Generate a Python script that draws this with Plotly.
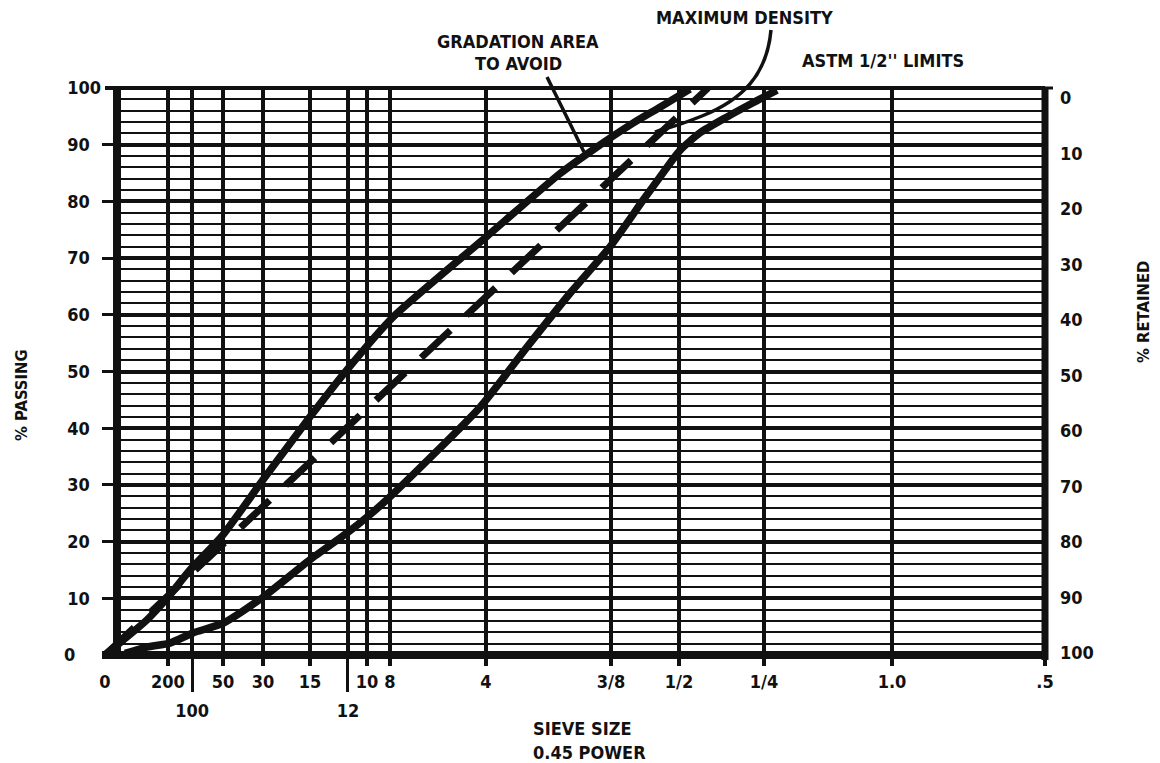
import plotly.graph_objects as go

# ---------------- data ----------------
# sieve positions on the 0.45-power x scale (chart units, 0 = origin, 100 = right edge)
sieve_labels_row1 = ["200", "50", "30", "15", "10", "8", "4", "3/8", "1/2", "1/4", "1.0", ".5"]
sieve_pos_row1 = [6.70, 12.55, 16.81, 21.81, 27.87, 30.32, 40.53, 53.83, 61.06, 70.11, 83.72, 100.0]
sieve_labels_row2 = ["100", "12"]
sieve_pos_row2 = [9.26, 25.85]
origin_label = ["0"]
origin_pos = [0.0]

passing_ticks = [0, 10, 20, 30, 40, 50, 60, 70, 80, 90, 100]
retained_ticks = [0, 10, 20, 30, 40, 50, 60, 70, 80, 90, 100]

# upper ASTM 1/2" limit curve (x position, % passing)
upper_x = [0, 1.91, 4.47, 6.70, 9.04, 12.55, 16.81, 21.81, 25.74, 30.64, 40.53, 48.40, 51.91, 56.17, 59.04, 62.23]
upper_y = [0, 2.6, 6.2, 10.2, 15.0, 21.2, 30.9, 42.0, 50.3, 59.6, 73.7, 84.9, 89.1, 93.8, 96.6, 99.8]

# lower ASTM 1/2" limit curve
lower_x = [2.13, 4.47, 6.91, 9.36, 12.55, 16.81, 21.81, 25.74, 27.87, 30.32, 39.89, 44.89, 49.47,
           53.72, 57.23, 59.04, 61.17, 63.30, 66.17, 68.94, 71.49]
lower_y = [0.3, 1.4, 2.1, 3.9, 5.6, 10.2, 16.8, 21.5, 24.3, 27.9, 43.7, 54.3, 63.8,
           72.0, 80.2, 84.3, 89.0, 92.1, 94.9, 97.4, 99.6]

# maximum density line
maxden_x = [0, 64.15]
maxden_y = [0, 100]

# ---------------- layout helpers (pixel -> paper) ----------------
W, H = 1160, 763
PL, PR, PT, PB = 102, 1045, 88, 655


def fx(p):
    return (p - PL) / (PR - PL)


def fy(p):
    return (PB - p) / (PB - PT)


INK = "#111111"
FONT = "DejaVu Sans Condensed, Liberation Sans Narrow, Arial Narrow, Liberation Sans, sans-serif"
X_MIN = -(105 - PL) / 9.4
FRAME_X = (117 - 105) / 9.4  # left frame line, in x units

# left labels are left-aligned in the reference: pad with figure spaces
FIG_SP = "\u2007"
passing_text = [str(v) + FIG_SP * (3 - len(str(v))) + ("\u2009" if v == 0 else "") for v in passing_ticks]

fig = go.Figure()

fig.add_trace(go.Scatter(x=upper_x, y=upper_y, mode="lines",
                         line=dict(color=INK, width=7.5, shape="spline", smoothing=0.6),
                         hoverinfo="skip", showlegend=False))
fig.add_trace(go.Scatter(x=lower_x, y=lower_y, mode="lines",
                         line=dict(color=INK, width=7.5, shape="spline", smoothing=0.6),
                         hoverinfo="skip", showlegend=False))
fig.add_trace(go.Scatter(x=maxden_x, y=maxden_y, mode="lines",
                         line=dict(color=INK, width=7, dash="40px,22px"),
                         hoverinfo="skip", showlegend=False))
# empty traces so that the overlaying axes (second label row, origin label, % retained) are drawn
fig.add_trace(go.Scatter(x=[], y=[], xaxis="x2", yaxis="y2", mode="lines",
                         hoverinfo="skip", showlegend=False))
fig.add_trace(go.Scatter(x=[], y=[], xaxis="x3", yaxis="y", mode="lines",
                         hoverinfo="skip", showlegend=False))

tickfont = dict(family=FONT, size=18, color=INK, weight="bold")
titlefont = dict(family=FONT, size=16.5, color=INK, weight="bold")

fig.update_layout(
    width=W, height=H,
    margin=dict(l=PL, r=W - PR, t=PT, b=H - PB, pad=0, autoexpand=False),
    paper_bgcolor="white", plot_bgcolor="white",
    font=dict(family=FONT, color=INK, weight="bold"),
    showlegend=False,
    xaxis=dict(range=[X_MIN, 100], tickmode="array", tickvals=sieve_pos_row1, ticktext=sieve_labels_row1,
               showgrid=True, gridcolor=INK, gridwidth=4, zeroline=False, showline=False,
               ticks="outside", ticklen=10, tickwidth=4, tickcolor=INK, tickfont=tickfont),
    xaxis2=dict(range=[X_MIN, 100], overlaying="x", anchor="y", side="bottom", tickmode="array",
                tickvals=sieve_pos_row2, ticktext=sieve_labels_row2,
                showgrid=True, gridcolor=INK, gridwidth=4, zeroline=False, showline=False,
                ticks="outside", ticklen=36, tickwidth=3, tickcolor=INK, tickfont=tickfont,
                ticklabelstandoff=3),
    xaxis3=dict(range=[X_MIN, 100], overlaying="x", anchor="y", side="bottom", tickmode="array",
                tickvals=origin_pos, ticktext=origin_label, showgrid=False, zeroline=False,
                showline=False, ticks="outside", ticklen=10, tickcolor="rgba(0,0,0,0)", tickfont=tickfont),
    yaxis=dict(range=[0, 100], tickmode="array", tickvals=passing_ticks, ticktext=passing_text,
               showgrid=True, gridcolor=INK, gridwidth=4, zeroline=False, showline=False,
               ticks="inside", ticklen=12, tickwidth=3, tickcolor=INK, tickfont=tickfont,
               minor=dict(dtick=2, showgrid=True, gridcolor=INK, gridwidth=2.2,
                          ticks="outside", ticklen=0, tickwidth=0, tickcolor="rgba(0,0,0,0)")),
    yaxis2=dict(range=[100.36, -1.80], overlaying="y", side="right", anchor="x", tickmode="array",
                tickvals=retained_ticks, showgrid=False, zeroline=False, showline=False, ticks="",
                tickfont=tickfont, ticklabelstandoff=14),
)

# frame and mask of grid left of the frame
shapes = [
    dict(type="rect", xref="x", yref="y", x0=X_MIN - 1, x1=FRAME_X, y0=-1, y1=101,
         fillcolor="white", line=dict(width=0), layer="between"),
    dict(type="line", xref="paper", yref="paper", x0=fx(117), x1=fx(117), y0=0, y1=1,
         line=dict(color=INK, width=8)),
    dict(type="line", xref="paper", yref="paper", x0=0, x1=1, y0=0, y1=0,
         line=dict(color=INK, width=8)),
    dict(type="line", xref="paper", yref="paper", x0=1, x1=1, y0=fy(660), y1=1,
         line=dict(color=INK, width=7)),
    dict(type="line", xref="paper", yref="paper", x0=fx(105), x1=1, y0=1, y1=1,
         line=dict(color=INK, width=4)),
    dict(type="line", xref="paper", yref="paper", x0=1, x1=fx(1053), y0=1, y1=1,
         line=dict(color=INK, width=3)),
    # leader: gradation area to avoid
    dict(type="line", xref="paper", yref="paper", x0=fx(547), y0=fy(77), x1=fx(584), y1=fy(152),
         line=dict(color=INK, width=3.5)),
    # leader: maximum density (curved)
    dict(type="path", xref="paper", yref="paper",
         path=(f"M {fx(771)} {fy(30)} C {fx(767)} {fy(75)}, {fx(742)} {fy(100)}, {fx(702)} {fy(116)} "
               f"S {fx(666)} {fy(127)}, {fx(655)} {fy(132)}"),
         line=dict(color=INK, width=3.5)),
]
fig.update_layout(shapes=shapes)

lab = dict(family=FONT, size=18, color=INK, weight="bold")
annotations = [
    dict(text="GRADATION AREA", x=fx(518), y=fy(42), xref="paper", yref="paper",
         xanchor="center", yanchor="middle", showarrow=False, font=lab),
    dict(text="TO AVOID", x=fx(518), y=fy(63), xref="paper", yref="paper",
         xanchor="center", yanchor="middle", showarrow=False, font=lab),
    dict(text="MAXIMUM DENSITY", x=fx(744), y=fy(18), xref="paper", yref="paper",
         xanchor="center", yanchor="middle", showarrow=False, font=lab),
    dict(text="ASTM 1/2'' LIMITS", x=fx(883), y=fy(61), xref="paper", yref="paper",
         xanchor="center", yanchor="middle", showarrow=False, font=lab),
    dict(text="SIEVE SIZE", x=fx(531), y=fy(728), xref="paper", yref="paper",
         xanchor="left", yanchor="middle", showarrow=False, font=lab),
    dict(text="0.45 POWER", x=fx(531), y=fy(752), xref="paper", yref="paper",
         xanchor="left", yanchor="middle", showarrow=False, font=lab),
    # axis titles
    dict(text="% PASSING", x=fx(21), y=fy(395), xref="paper", yref="paper", textangle=-90,
         xanchor="center", yanchor="middle", showarrow=False, font=titlefont),
    dict(text="% RETAINED", x=fx(1143), y=fy(312), xref="paper", yref="paper", textangle=-90,
         xanchor="center", yanchor="middle", showarrow=False, font=titlefont),
]
fig.update_layout(annotations=annotations)

fig.write_html("out.html", config={"displayModeBar": False},
               post_script="document.body.style.margin='0px';")
